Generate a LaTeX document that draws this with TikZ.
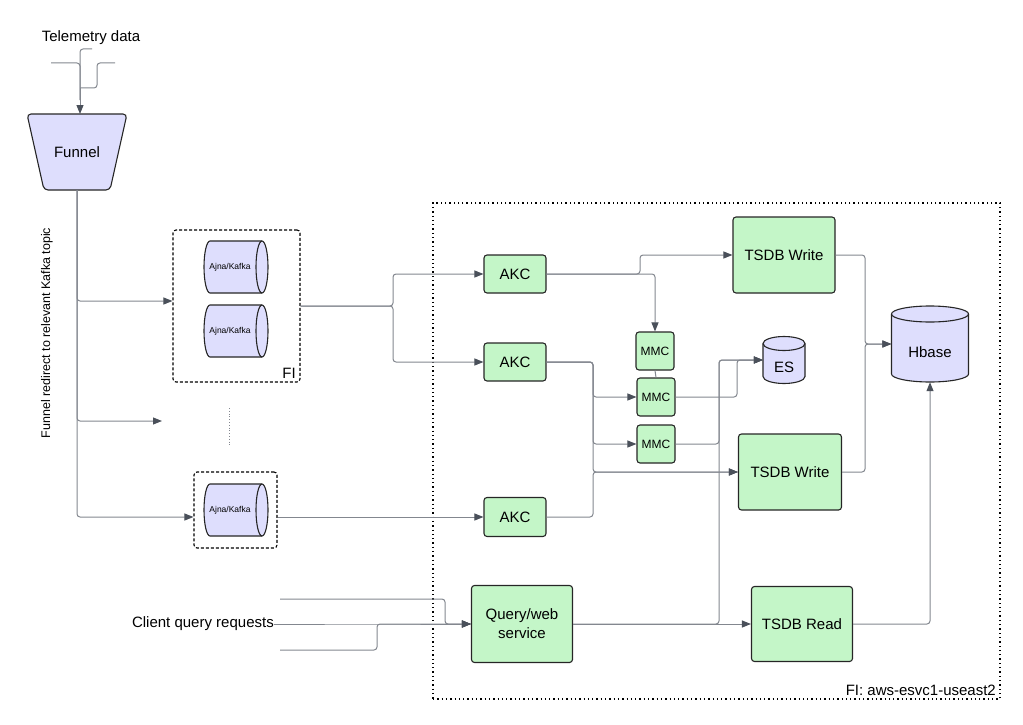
\documentclass[tikz,border=0pt]{standalone}
\usepackage{fontspec}
\setmainfont{Liberation Sans}
\usetikzlibrary{shapes.geometric,arrows.meta,positioning,calc}

\definecolor{svcgreen}{HTML}{C4F6C8}
\definecolor{storelav}{HTML}{DEDEFD}
\definecolor{wiregray}{HTML}{83878F}
\definecolor{tipgray}{HTML}{4A505A}
\definecolor{inkdark}{HTML}{262626}

% upright drum: cx, cy, half width, half height, cap radius
\newcommand{\drumV}[5]{%
  \filldraw[drum] (#1-#3,#2-#4+#5) -- (#1-#3,#2+#4-#5)
    arc[start angle=180, end angle=360, x radius=#3pt, y radius=#5pt]
    -- (#1+#3,#2-#4+#5)
    arc[start angle=0, end angle=180, x radius=#3pt, y radius=#5pt] -- cycle;
  \draw[drum, fill=none] (#1-#3,#2-#4+#5)
    arc[start angle=180, end angle=360, x radius=#3pt, y radius=#5pt];
}
% lying drum: cx, cy, half width, half height, cap radius
\newcommand{\drumH}[5]{%
  \filldraw[drum] (#1+#3-#5,#2-#4) -- (#1-#3+#5,#2-#4)
    arc[start angle=90, end angle=270, x radius=#5pt, y radius=#4pt]
    -- (#1+#3-#5,#2+#4)
    arc[start angle=-90, end angle=90, x radius=#5pt, y radius=#4pt] -- cycle;
  \draw[drum, fill=none] (#1+#3-#5,#2-#4)
    arc[start angle=90, end angle=270, x radius=#5pt, y radius=#4pt];
}

\tikzset{
  svc/.style={draw=inkdark, fill=svcgreen, rounded corners=3pt, line width=1.1pt,
    align=center, inner sep=0pt, font=\fontsize{15}{19}\selectfont},
  mmcbox/.style={svc, minimum width=38, minimum height=38, font=\fontsize{12}{14}\selectfont},
  drum/.style={draw=inkdark, fill=storelav, line width=1.1pt},
  storebox/.style={inner sep=0pt},
  kafkatxt/.style={inner sep=0pt, font=\fontsize{8.5}{10}\selectfont},
  storetxt/.style={inner sep=0pt, font=\fontsize{15}{18}\selectfont},
  zone/.style={draw=black, dash pattern=on 3pt off 2pt, line width=1.1pt, rounded corners=3pt, inner sep=0pt},
  wire/.style={draw=wiregray, line width=1pt, rounded corners=3pt},
  flow/.style={wire, -{Triangle[length=9pt,width=7pt,color=tipgray]}},
  lbl/.style={inner sep=0pt, font=\fontsize{15}{18}\selectfont},
}

\begin{document}
\begin{tikzpicture}[x=1pt, y=-1pt]
\useasboundingbox (0,0) rectangle (1023,725);

% region boxes
\node[draw=black, line width=1.3pt, dash pattern=on 1.3pt off 3pt, inner sep=0pt,
  minimum width=567, minimum height=496] (region) at (716.5,451) {};
\node[lbl, anchor=south east] (regionlbl) at (996,696) {FI: aws-esvc1-useast2};
\node[zone, minimum width=127, minimum height=152] (fi1) at (236.5,306) {};
\node[lbl, anchor=south east] (fi1lbl) at (296,379) {FI};
\node[zone, minimum width=83, minimum height=76] (fi2) at (235.5,510) {};

% input side
\node[lbl] (telemetry) at (91,38) {Telemetry data};
\draw[draw=inkdark, fill=storelav, line width=1.1pt, rounded corners=4pt]
  (27,114) -- (127,114) -- (110,190) -- (44,190) -- cycle;
\node[lbl, minimum width=99, minimum height=76] (funnel) at (77,152) {Funnel};
\node[lbl, rotate=90, font=\fontsize{12.5}{15}\selectfont] (redirect) at (47,333) {Funnel redirect to relevant Kafka topic};
\node[lbl, anchor=east] (client) at (274,624) {Client query requests};

% kafka topics
\drumH{236}{267}{32}{26}{6}
\drumH{236}{331}{32}{26}{6}
\drumH{236}{510}{32}{26}{6}
\node[kafkatxt] (kaf1) at (230,267) {Ajna/Kafka};
\node[kafkatxt] (kaf2) at (230,331) {Ajna/Kafka};
\node[kafkatxt] (kaf3) at (230,510) {Ajna/Kafka};

% services
\node[svc, minimum width=62, minimum height=38] (akc1) at (515,274) {AKC};
\node[svc, minimum width=62, minimum height=38] (akc2) at (515,362) {AKC};
\node[svc, minimum width=62, minimum height=39] (akc3) at (515,517) {AKC};
\node[mmcbox] (mmc1) at (655,351) {MMC};
\node[mmcbox] (mmc2) at (656,397) {MMC};
\node[mmcbox] (mmc3) at (656,444) {MMC};
\node[svc, minimum width=102, minimum height=76] (tsdbw1) at (784,255) {TSDB Write};
\node[svc, minimum width=103, minimum height=76] (tsdbw2) at (790,472) {TSDB Write};
\node[svc, minimum width=101, minimum height=75] (tsdbr) at (802,624) {TSDB Read};
\node[svc, minimum width=101, minimum height=77] (query) at (522,624) {Query/web\\service};

% stores
\drumV{784}{360}{21}{23.5}{7}
\drumV{930}{344}{38.5}{38}{8}
\node[storebox, minimum width=42, minimum height=47,
  label={[storetxt, yshift=-7pt]center:ES}] (es) at (784,360) {};
\node[storebox, minimum width=77, minimum height=76,
  label={[storetxt, yshift=-8pt]center:Hbase}] (hbase) at (930,344) {};

\coordinate (tin1) at (51,63);
\coordinate (tin2) at (92,49);
\coordinate (tin3) at (115,63);
\coordinate (gap) at (162,421);

% telemetry into funnel
\draw[wire] (tin2) -- (80,49) -- (80,100);
\draw[wire] (tin1) -| (80,100);
\draw[wire] (tin3) -- (97,63) |- (80,88);
\draw[flow] (80,88) -- (80,114);

% funnel to kafka
\draw[flow] (77,190) |- ([yshift=5pt]fi1.west);
\draw[flow] (77,190) |- (gap);
\draw[flow] (77,190) |- ([yshift=-7pt]fi2.west);
\draw[wiregray, dotted, line width=0.8pt] (229,408) -- (229,447);

% kafka to akc
\draw[flow] (fi1.east) -- (393,306) |- (akc1.west);
\draw[flow] (fi1.east) -- (393,306) |- (akc2.west);
\draw[flow] (akc3.west -| fi2.east) -- (akc3.west);

% akc fan out
\draw[flow] (akc1.east) -- (640,274) |- (tsdbw1.west);
\draw[flow] (akc1.east) -| (mmc1.north);
\draw[flow] (akc2.east) -- (593,362) |- (mmc2.west);
\draw[flow] (akc2.east) -- (593,362) |- (mmc3.west);
\draw[flow] (akc2.east) -- (593,362) |- (tsdbw2.west);
\draw[flow] (akc3.east) -- (593,517) |- (tsdbw2.west);
\draw[wire] (mmc1.south) -- (mmc2.north);

% mmc and query to es
\draw[flow] (mmc2.east) -- (737,397) |- (es.west);
\draw[flow] (mmc3.east) -- (719,444) |- (es.west);
\draw[flow] (query.east) -- (719,624) |- (es.west);
\draw[flow] (query.east) -- (tsdbr.west);

% tsdb to hbase
\draw[flow] (tsdbw1.east) -- (865,255) |- (hbase.west);
\draw[flow] (tsdbw2.east) -- (865,472) |- (hbase.west);
\draw[flow] (tsdbr.east) -| (hbase.south);

% client requests
\draw[flow] (client.east) -- (377,624) -- (query.west);
\draw[flow] (280,599) -- (445,599) |- (query.west);
\draw[flow] (280,650) -- (377,650) |- (query.west);
\end{tikzpicture}
\end{document}
